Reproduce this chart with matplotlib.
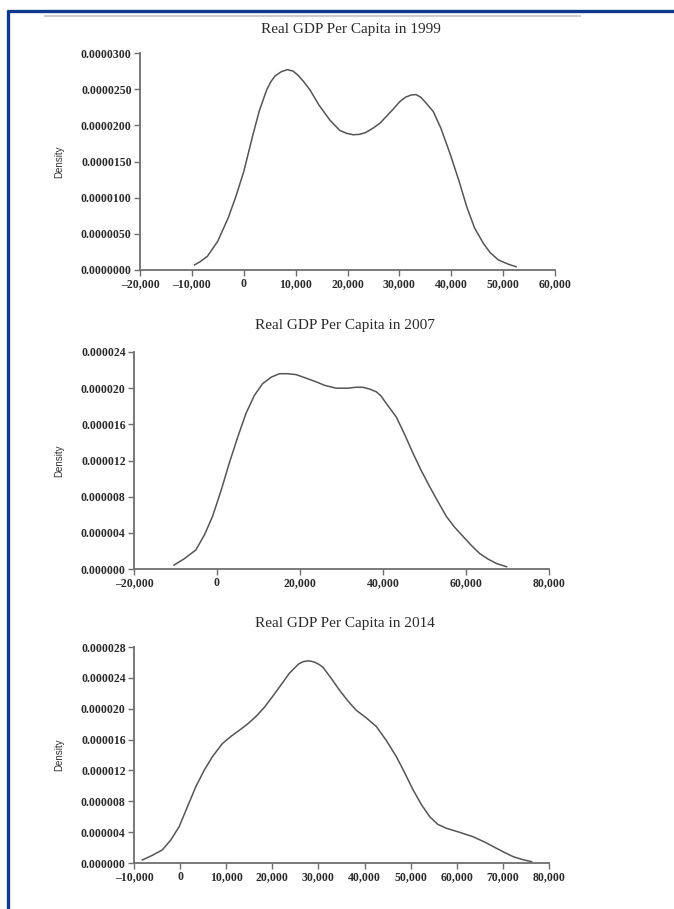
import matplotlib
matplotlib.use("Agg")
import matplotlib.pyplot as plt
from matplotlib.lines import Line2D
from matplotlib.ticker import FuncFormatter, FormatStrFormatter

# ---------------- data (density values in units of 1e-6) ----------------
titles = ["Real GDP Per Capita in 1999", "Real GDP Per Capita in 2007", "Real GDP Per Capita in 2014"]

x1999 = [-9500, -8400, -7000, -5000, -3000, -1500, 0, 1840, 3000, 4420, 5200, 6000, 7200, 8400, 9500,
         10500, 11600, 12770, 14500, 16630, 18500, 19800, 21100, 22300, 23500, 24900, 26265, 28500,
         30120, 31200, 32300, 33200, 34100, 35000, 36540, 38000, 39760, 41500, 42980, 44500, 46180,
         47500, 49070, 51000, 52500]
d1999 = [0.7, 1.15, 1.9, 4.0, 7.2, 10.2, 13.6, 18.9, 22.0, 24.9, 26.0, 26.8, 27.4, 27.7, 27.5,
         26.9, 26.0, 24.9, 22.8, 20.7, 19.3, 18.9, 18.7, 18.75, 19.0, 19.6, 20.3, 22.0,
         23.3, 23.9, 24.2, 24.25, 23.9, 23.2, 21.9, 19.6, 16.1, 12.3, 8.75, 5.8, 3.7,
         2.4, 1.4, 0.8, 0.45]

x2007 = [-10340, -8000, -5100, -3000, -1090, 1000, 2950, 5000, 6980, 9000, 11000, 13000, 15020, 17000,
         19060, 21500, 23880, 26000, 28710, 31500, 33500, 35150, 36800, 38380, 39500, 40500, 43210,
         45200, 47230, 49200, 51260, 53300, 55290, 57300, 59300, 61300, 63330, 65300, 67370, 69790]
d2007 = [0.44, 1.1, 2.1, 3.8, 5.8, 8.7, 11.7, 14.6, 17.2, 19.2, 20.5, 21.2, 21.6, 21.6,
         21.5, 21.1, 20.7, 20.3, 20.0, 20.0, 20.1, 20.1, 19.9, 19.6, 19.15, 18.5, 16.8,
         14.9, 12.8, 10.9, 9.1, 7.4, 5.8, 4.6, 3.6, 2.6, 1.7, 1.1, 0.6, 0.25]

x2014 = [-8200, -6000, -3850, -2000, -220, 1600, 3410, 5200, 7020, 9200, 11000, 12830, 14600, 16460,
         18300, 20070, 21900, 23700, 25700, 26700, 27680, 28500, 29300, 30100, 30940, 32700, 34570,
         36400, 38200, 40400, 42540, 44700, 46890, 48700, 50500, 52300, 54130, 55900, 57760, 60500,
         63550, 66100, 68630, 70400, 72240, 74200, 76230]
d2014 = [0.39, 1.0, 1.7, 3.0, 4.7, 7.3, 9.9, 12.0, 13.8, 15.5, 16.4, 17.2, 18.0, 19.0,
         20.2, 21.6, 23.1, 24.6, 25.8, 26.1, 26.2, 26.15, 26.0, 25.75, 25.4, 24.0, 22.4,
         21.0, 19.8, 18.8, 17.7, 15.9, 13.8, 11.7, 9.5, 7.6, 6.0, 5.0, 4.5, 4.0,
         3.4, 2.7, 1.9, 1.35, 0.82, 0.45, 0.17]

xticks1999 = [-20000, -10000, 0, 10000, 20000, 30000, 40000, 50000, 60000]
yticks1999 = [0, 5, 10, 15, 20, 25, 30]
xticks2007 = [-20000, 0, 20000, 40000, 60000, 80000]
yticks2007 = [0, 4, 8, 12, 16, 20, 24]
xticks2014 = [-10000, 0, 10000, 20000, 30000, 40000, 50000, 60000, 70000, 80000]
yticks2014 = [0, 4, 8, 12, 16, 20, 24, 28]

# ---------------- figure ----------------
W, H = 674, 909
fig = plt.figure(figsize=(W / 100, H / 100), dpi=100)
fig.patch.set_facecolor("white")

serif = ["Liberation Serif", "DejaVu Serif"]
axis_col = "#6e6e6e"
text_col = "#2a2a2a"


def frac_box(left, top, right, bottom):
    return [left / W, 1 - bottom / H, (right - left) / W, (bottom - top) / H]


panels = [
    (x1999, d1999, xticks1999, yticks1999, "%.7f", frac_box(140, 53, 555, 270), titles[0], 29),
    (x2007, d2007, xticks2007, yticks2007, "%.6f", frac_box(134, 352, 549, 569), titles[1], 326),
    (x2014, d2014, xticks2014, yticks2014, "%.6f", frac_box(134, 647, 549, 863), titles[2], 623),
]


def xfmt(v, pos):
    if v == 0:
        return "0"
    s = f"{abs(int(v)):,}"
    return ("\u2013" + s) if v < 0 else s


for xs, ds, xt, yt, yf, box, title, ty in panels:
    ax = fig.add_axes(box)
    ys = [d * 1e-6 for d in ds]
    ax.plot(xs, ys, color="#555555", lw=1.1, solid_joinstyle="round")
    ax.set_xlim(xt[0], xt[-1])
    ax.set_ylim(0, yt[-1] * 1e-6)
    ax.set_xticks(xt)
    ax.set_yticks([v * 1e-6 for v in yt])
    ax.xaxis.set_major_formatter(FuncFormatter(xfmt))
    ax.yaxis.set_major_formatter(FormatStrFormatter(yf))
    for s in ["top", "right"]:
        ax.spines[s].set_visible(False)
    for s in ["left", "bottom"]:
        ax.spines[s].set_color(axis_col)
        ax.spines[s].set_linewidth(1.3)
    ax.tick_params(axis="both", direction="out", length=4, width=1.0, color=axis_col,
                   labelcolor=text_col, labelsize=8.5, pad=2)
    for lab in ax.get_xticklabels() + ax.get_yticklabels():
        lab.set_family(serif)
        lab.set_fontweight("bold")
    fig.text((box[0] + box[0] + box[2]) / 2 + 0.005, 1 - ty / H, title, ha="center", va="center",
             family=serif, fontsize=11, color=text_col)
    fig.text(59 / W, box[1] + box[3] / 2, "Density", rotation=90, ha="center", va="center",
             family=["Liberation Sans", "DejaVu Sans"], fontsize=7, color="#333333")

# gray separator line near the top
fig.add_artist(Line2D([45 / W, 580 / W], [1 - 16 / H, 1 - 16 / H], color="#cccccc", lw=1.5,
                      transform=fig.transFigure))
# blue frame (top and left)
frame_col = "#0d3a8c"
fig.add_artist(Line2D([6.5 / W, 1.0], [1 - 11 / H, 1 - 11 / H], color=frame_col, lw=2.4,
                      transform=fig.transFigure, solid_capstyle="butt"))
fig.add_artist(Line2D([7.5 / W, 7.5 / W], [0, 1 - 10 / H], color=frame_col, lw=2.4,
                      transform=fig.transFigure, solid_capstyle="butt"))

fig.savefig("out.png", dpi=100, facecolor="white")
